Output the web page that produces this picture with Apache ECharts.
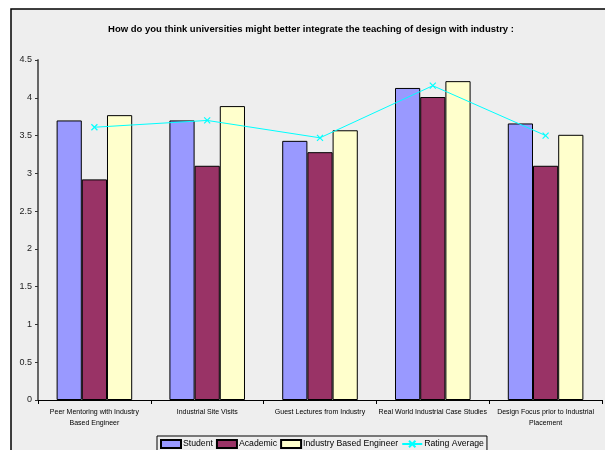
<!DOCTYPE html>
<html><head><meta charset="utf-8">
<script src="https://cdn.jsdelivr.net/npm/echarts@6/dist/echarts.min.js"></script>
<style>html,body{margin:0;padding:0;background:#fff;}#c{width:605px;height:450px;}</style>
</head><body><div id="c"></div>
<script>
var titleText = 'How do you think universities might better integrate the teaching of design with industry :';
var categories = ['Peer Mentoring with Industry\nBased Engineer', 'Industrial Site Visits', 'Guest Lectures from Industry', 'Real World Industrial Case Studies', 'Design Focus prior to Industrial\nPlacement'];
var student = [3.70, 3.70, 3.43, 4.13, 3.66];
var academic = [2.92, 3.10, 3.28, 4.01, 3.10];
var industry = [3.77, 3.89, 3.57, 4.22, 3.51];
var ratingAverage = [3.61, 3.70, 3.47, 4.16, 3.50];

var chart = echarts.init(document.getElementById('c'), null, {renderer: 'canvas'});
var font = 'Liberation Sans';
var barStyle = function (c) { return {color: c, borderColor: '#000', borderWidth: 1}; };
chart.setOption({
  animation: false,
  backgroundColor: '#ffffff',
  graphic: [{
    type: 'rect', z: -10, silent: true,
    shape: {x: 11, y: 9, width: 640, height: 480},
    style: {fill: '#eeeeee', stroke: '#000', lineWidth: 1.5}
  }],
  title: {
    text: titleText, left: 306, top: 19, textAlign: 'center',
    textStyle: {fontFamily: font, fontSize: 9.5, fontWeight: 'bold', color: '#000'}
  },
  grid: {left: 38, right: 3, top: 60, bottom: 50},
  legend: {
    left: 157, top: 436, padding: [3, 3, 3, 3],
    borderColor: '#000', borderWidth: 1,
    itemWidth: 20, itemHeight: 8, itemGap: 3,
    textStyle: {fontFamily: font, fontSize: 8.7, color: '#000', padding: [0, 0, 0, -3]},
    data: [
      {name: 'Student', icon: 'rect'},
      {name: 'Academic', icon: 'rect'},
      {name: 'Industry Based Engineer', icon: 'rect'},
      {name: 'Rating Average'}
    ]
  },
  xAxis: {
    type: 'category', data: categories,
    axisLine: {lineStyle: {color: '#000', width: 1}},
    axisTick: {show: true, length: 4, inside: false, lineStyle: {color: '#000'}},
    axisLabel: {fontFamily: font, fontSize: 7, color: '#000', interval: 0, margin: 7, lineHeight: 11}
  },
  yAxis: {
    type: 'value', min: 0, max: 4.5, interval: 0.5,
    axisLine: {show: true, lineStyle: {color: '#666', width: 2}},
    axisTick: {show: true, length: 3, lineStyle: {color: '#333'}},
    splitLine: {show: false},
    axisLabel: {fontFamily: font, fontSize: 9, color: '#222', margin: 6}
  },
  series: [
    {name: 'Student', type: 'bar', data: student, barGap: '0%', barCategoryGap: '33%', itemStyle: barStyle('#9999ff')},
    {name: 'Academic', type: 'bar', data: academic, itemStyle: barStyle('#993366')},
    {name: 'Industry Based Engineer', type: 'bar', data: industry, itemStyle: barStyle('#ffffcc')},
    {name: 'Rating Average', type: 'line', data: ratingAverage, z: 5,
      symbol: 'path://M0,0L10,10M10,0L0,10', symbolSize: 6,
      lineStyle: {color: '#00ffff', width: 1},
      itemStyle: {color: '#00ffff', borderColor: '#00ffff', borderWidth: 1.2}}
  ]
});
</script></body></html>
